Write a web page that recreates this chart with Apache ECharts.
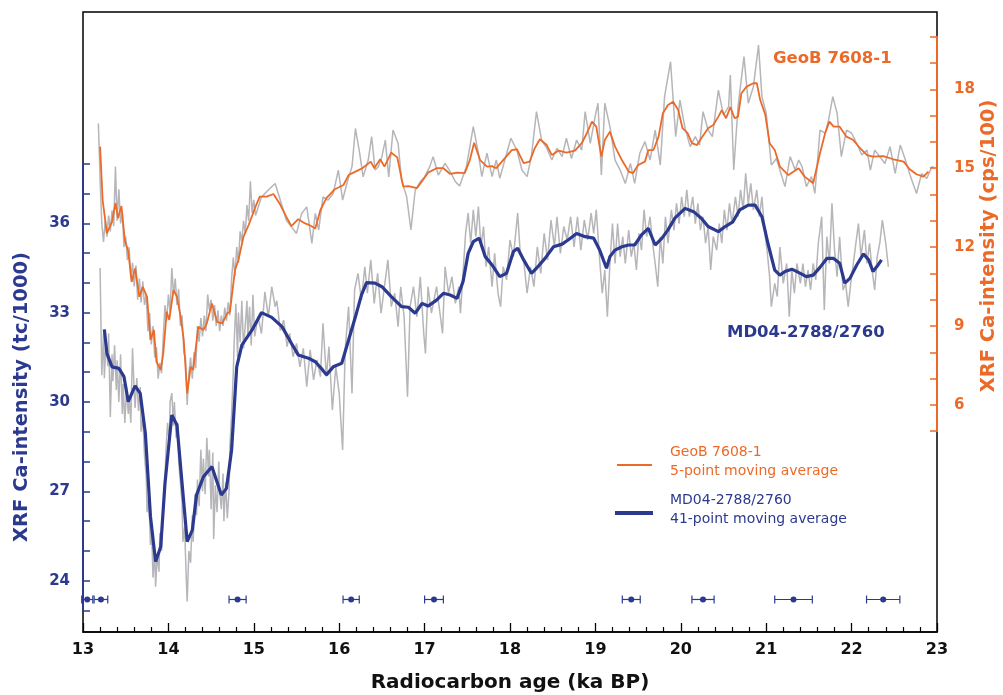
<!DOCTYPE html>
<html>
<head>
<meta charset="utf-8">
<script src="https://cdn.jsdelivr.net/npm/echarts@6/dist/echarts.min.js"></script>
<style>
  html, body { margin: 0; padding: 0; background: #fff; }
  #chart { width: 1003px; height: 695px; }
</style>
</head>
<body>
<div id="chart"></div>
<script>
// GeoB 7608-1 raw XRF Ca (cps/100), [age ka BP, value]
const geobRaw = [
  [13.18,16.7],[13.20,14.6],[13.22,12.9],[13.24,12.2],[13.26,13.0],[13.28,12.4],[13.30,13.2],[13.32,12.6],[13.34,13.4],[13.36,12.8],
  [13.38,15.06],[13.40,13.0],[13.42,14.2],[13.44,12.9],[13.46,13.3],[13.48,12.0],[13.50,12.4],[13.52,11.5],[13.54,12.0],[13.56,10.8],
  [13.58,11.4],[13.60,10.5],[13.62,11.3],[13.64,10.0],[13.66,10.8],[13.68,9.9],[13.70,10.7],[13.72,9.8],[13.74,10.2],[13.76,8.8],
  [13.78,9.5],[13.80,8.3],[13.82,9.0],[13.84,7.8],[13.86,8.2],[13.88,7.0],[13.90,7.6],[13.92,7.2],[13.94,8.6],[13.96,9.8],
  [13.98,9.2],[14.00,10.2],[14.02,9.5],[14.04,11.2],[14.06,10.2],[14.08,10.8],[14.10,9.8],[14.12,10.4],[14.14,9.0],[14.16,9.4],
  [14.18,8.0],[14.20,7.8],[14.22,6.0],[14.24,7.2],[14.26,7.8],[14.28,7.0],[14.30,8.0],[14.32,7.4],[14.34,9.0],[14.36,8.4],
  [14.38,9.3],[14.40,8.6],[14.42,9.4],[14.44,8.8],[14.46,10.2],[14.48,9.6],[14.50,10.0],[14.52,9.2],[14.54,9.8],[14.56,9.0],
  [14.58,9.6],[14.60,8.8],[14.62,9.4],[14.64,9.0],[14.66,9.7],[14.68,9.2],[14.70,9.9],[14.72,9.4],[14.74,10.8],[14.76,11.6],
  [14.78,10.9],[14.80,12.0],[14.82,11.4],[14.84,12.6],[14.86,12.2],[14.88,13.0],[14.90,12.5],[14.92,13.6],[14.94,13.0],[14.96,14.5],
  [14.98,13.3],[15.00,13.8],[15.02,13.2],
  [15.09,13.9],[15.17,14.17],[15.25,14.42],[15.31,13.79],[15.38,13.03],[15.44,12.77],[15.50,12.52],[15.56,13.28],[15.62,13.53],[15.68,12.14],
  [15.72,13.28],[15.76,12.65],[15.81,13.91],[15.87,13.79],[15.93,14.04],[15.99,14.93],[16.04,13.79],[16.09,14.42],[16.15,15.06],[16.19,16.51],
  [16.24,15.56],[16.28,14.67],[16.34,15.31],[16.38,16.2],[16.42,14.93],[16.46,15.06],[16.50,15.44],[16.54,16.07],[16.58,14.67],[16.63,16.45],
  [16.69,15.94],[16.73,14.55],[16.79,13.91],[16.84,12.65],[16.89,14.17],[16.95,14.49],[17.00,14.67],
  [17.06,15.06],[17.10,15.44],[17.16,14.74],[17.24,15.18],[17.30,14.87],[17.36,14.49],[17.41,14.32],[17.49,15.06],[17.57,16.58],[17.63,15.57],
  [17.67,14.68],[17.73,15.57],[17.79,14.68],[17.84,15.31],[17.88,14.62],[17.94,15.31],[18.01,16.14],[18.08,15.69],[18.14,14.93],[18.20,14.68],
  [18.25,15.44],[18.31,17.15],[18.37,16.07],[18.43,15.76],[18.49,15.31],[18.55,15.76],[18.61,15.44],[18.66,16.14],[18.72,15.37],[18.78,16.07],
  [18.84,15.69],[18.88,17.15],[18.94,15.94],[19.00,17.02],[19.03,17.47],[19.07,14.74],
  [19.11,17.47],[19.17,16.58],[19.23,15.31],[19.29,14.93],[19.35,14.42],[19.41,15.18],[19.46,14.42],[19.52,15.57],[19.58,16.01],[19.64,15.31],
  [19.70,16.45],[19.76,15.12],[19.81,17.72],[19.88,19.05],[19.94,16.20],[19.99,17.59],[20.05,16.52],[20.11,15.82],[20.17,16.20],[20.22,15.88],
  [20.26,17.15],[20.32,16.45],[20.37,16.20],[20.44,17.97],[20.50,17.02],[20.56,17.34],[20.58,18.54],[20.62,14.93],[20.67,17.34],[20.74,19.24],
  [20.79,17.47],[20.85,18.10],[20.91,19.68],[20.95,17.72],[21.00,17.09],[21.06,15.12],[21.12,15.37],
  [21.16,14.93],[21.22,14.30],[21.28,15.44],[21.34,14.93],[21.38,15.31],[21.42,15.06],[21.47,14.30],[21.53,14.68],[21.57,14.04],[21.63,16.45],
  [21.69,16.33],[21.73,16.83],[21.78,17.72],[21.83,17.09],[21.88,15.44],[21.94,16.45],[22.00,16.33],[22.06,15.94],[22.12,15.50],[22.18,15.69],
  [22.22,14.93],[22.27,15.69],[22.33,15.44],[22.39,15.18],[22.45,15.82],[22.51,14.80],[22.57,15.88],[22.63,15.31],[22.69,14.68],[22.76,14.04],
  [22.82,14.80],[22.88,14.61],[22.94,15.06],[22.98,15.0]
];

// GeoB 7608-1, 5-point moving average
const geobAvg = [
  [13.20,15.82],[13.23,13.79],[13.28,12.52],[13.34,12.97],[13.38,13.67],[13.41,13.10],[13.45,13.56],[13.49,12.27],[13.53,11.83],[13.57,10.68],
  [13.61,11.19],[13.66,10.11],[13.70,10.49],[13.75,10.11],[13.79,8.47],[13.83,8.85],[13.86,7.64],[13.91,7.33],[13.94,7.96],[13.98,9.54],
  [14.01,9.23],[14.06,10.37],[14.10,10.11],[14.14,9.42],[14.18,8.47],[14.22,6.44],[14.26,7.45],[14.29,7.33],[14.35,8.97],[14.41,8.85],
  [14.45,9.10],[14.51,9.86],[14.57,9.16],[14.63,9.10],[14.69,9.48],[14.72,9.54],[14.78,11.13],[14.82,11.51],[14.88,12.40],[14.94,12.84],
  [15.02,13.54],[15.07,13.92],[15.15,13.92],[15.23,14.02],[15.30,13.67],[15.38,13.16],[15.44,12.80],[15.52,13.06],[15.60,12.90],[15.65,12.84],
  [15.72,12.71],[15.78,13.41],[15.85,13.86],[15.95,14.20],[16.05,14.36],[16.11,14.74],[16.19,14.87],[16.27,15.00],[16.37,15.25],[16.41,15.00],
  [16.48,15.34],[16.53,15.06],[16.61,15.59],[16.68,15.41],[16.75,14.30],[16.81,14.32],[16.91,14.24],[16.98,14.55],[17.04,14.83],[17.14,15.00],
  [17.22,15.00],[17.30,14.78],[17.38,14.83],[17.47,14.81],[17.53,15.31],[17.58,15.97],[17.65,15.31],[17.73,15.06],[17.79,15.08],[17.84,15.00],
  [17.92,15.31],[18.02,15.69],[18.08,15.72],[18.16,15.19],[18.23,15.25],[18.29,15.76],[18.35,16.10],[18.43,15.88],[18.49,15.50],[18.57,15.67],
  [18.66,15.59],[18.76,15.67],[18.84,15.95],[18.90,16.33],[18.96,16.77],[19.01,16.58],[19.07,15.44],[19.11,16.07],[19.17,16.39],[19.23,15.82],
  [19.31,15.31],[19.39,14.87],[19.44,14.81],[19.50,15.12],[19.58,15.25],[19.62,15.69],[19.68,15.69],[19.74,16.20],[19.79,17.09],[19.85,17.40],
  [19.91,17.53],[19.97,17.21],[20.02,16.52],[20.08,16.33],[20.13,15.95],[20.19,15.88],[20.24,16.14],[20.32,16.52],[20.38,16.64],[20.44,16.96],
  [20.48,17.21],[20.53,16.90],[20.58,17.32],[20.63,16.90],[20.67,16.96],[20.71,17.85],[20.77,18.10],[20.85,18.23],[20.89,18.23],[20.93,17.59],
  [20.99,17.02],[21.04,15.95],[21.10,15.69],[21.16,15.06],[21.26,14.74],[21.38,15.00],[21.45,14.68],[21.55,14.43],[21.63,15.57],[21.69,16.33],
  [21.74,16.77],[21.79,16.58],[21.86,16.58],[21.94,16.20],[22.02,16.07],[22.10,15.76],[22.18,15.50],[22.25,15.44],[22.37,15.46],[22.49,15.34],
  [22.61,15.25],[22.68,14.96],[22.76,14.77],[22.84,14.68],[22.90,14.87]
];

// MD04-2788/2760 raw XRF Ca (tc/1000)
const mdRaw = [
  [13.20,34.5],[13.21,32.7],[13.22,30.9],[13.24,32.3],[13.25,30.8],[13.27,32.1],[13.29,31.2],[13.30,32.3],[13.32,29.5],[13.34,31.6],
  [13.35,30.7],[13.37,31.9],[13.39,30.4],[13.40,31.4],[13.42,30.0],[13.44,31.6],[13.46,29.6],[13.47,30.6],[13.49,29.3],[13.51,30.5],
  [13.53,29.6],[13.54,30.2],[13.56,29.3],[13.58,31.8],[13.60,30.3],[13.61,29.8],[13.63,30.8],[13.65,29.7],[13.67,30.5],[13.68,29.0],
  [13.70,29.5],[13.72,28.2],[13.74,27.5],[13.75,26.3],[13.77,26.8],[13.79,25.2],[13.80,26.0],[13.82,24.1],[13.84,25.0],[13.85,23.8],
  [13.87,24.9],[13.89,24.3],[13.90,25.6],[13.92,25.0],[13.94,26.4],[13.96,27.4],[13.97,28.3],[13.99,29.3],[14.01,28.6],[14.02,30.0],
  [14.04,30.3],[14.06,29.2],[14.07,30.0],[14.09,28.8],[14.11,29.3],[14.12,28.0],[14.14,27.3],[14.16,26.6],[14.17,25.3],[14.19,25.8],
  [14.21,24.0],[14.22,23.3],[14.24,25.0],[14.26,24.6],[14.28,26.2],[14.29,25.3],[14.31,26.9],[14.33,26.2],[14.34,27.4],[14.36,26.5],
  [14.38,28.4],[14.40,27.0],[14.41,28.1],[14.43,26.9],[14.45,28.8],[14.47,27.5],[14.48,28.4],[14.50,26.4],[14.52,28.3],[14.53,25.4],
  [14.55,27.2],[14.57,26.3],[14.59,28.0],[14.60,27.0],[14.62,26.4],[14.64,27.6],[14.65,26.0],[14.67,27.3],[14.69,26.1],[14.71,27.0],
  [14.72,28.5],[14.74,29.6],[14.76,31.0],[14.77,32.0],[14.79,33.3],[14.81,31.5],[14.82,33.0],[14.84,32.0],[14.86,33.4],[14.88,31.8],
  [14.90,32.6],[14.92,33.4],[14.93,32.2],[14.95,33.2],[14.97,31.9],[14.99,33.6],[15.01,32.2],
  [15.05,32.86],[15.09,32.3],[15.13,33.70],[15.17,32.86],[15.21,33.87],[15.25,33.2],[15.27,33.4],[15.31,32.4],[15.35,32.75],[15.39,31.86],
  [15.42,32.3],[15.46,31.52],[15.50,31.97],[15.54,31.18],[15.58,31.8],[15.62,30.51],[15.66,31.75],[15.70,30.74],[15.74,31.41],[15.78,30.85],
  [15.81,32.64],[15.85,30.85],[15.88,31.86],[15.92,29.73],[15.96,31.18],[16.00,30.29],[16.04,28.39],[16.07,31.75],[16.11,33.2],[16.15,30.29],
  [16.18,33.76],[16.22,34.32],[16.26,33.42],[16.30,34.54],[16.33,33.65],[16.37,34.77],[16.41,33.31],[16.45,34.32],[16.49,32.98],[16.53,33.87],
  [16.57,34.77],[16.61,33.2],[16.65,33.65],[16.69,32.53],[16.72,33.87],[16.76,32.86],[16.80,30.18],[16.83,33.2],[16.87,33.87],[16.91,32.86],
  [16.95,34.2],[16.99,32.3],[17.01,31.63],[17.04,33.87],[17.08,32.98],
  [17.14,33.87],[17.18,32.98],[17.21,32.3],[17.24,34.54],[17.28,33.65],[17.32,34.21],[17.36,33.31],[17.40,33.87],[17.42,32.98],[17.45,34.32],
  [17.48,35.66],[17.51,36.34],[17.54,35.33],[17.57,36.45],[17.60,35.55],[17.63,36.56],[17.66,35.21],[17.69,35.89],[17.72,34.54],[17.75,35.21],
  [17.79,33.87],[17.82,34.99],[17.86,33.65],[17.89,33.2],[17.92,34.54],[17.96,34.1],[18.00,35.44],[18.04,34.88],[18.09,36.34],[18.12,34.99],
  [18.16,34.77],[18.20,33.65],[18.24,34.54],[18.28,33.87],[18.32,35.21],[18.36,34.32],[18.40,35.66],[18.44,34.77],[18.48,36.11],[18.52,35.21],
  [18.55,36.22],[18.59,34.99],[18.63,35.89],[18.67,35.44],[18.71,36.22],[18.75,35.21],[18.79,36.22],[18.83,35.1],[18.87,36.11],[18.91,35.44],
  [18.95,36.34],[18.98,35.66],[19.01,36.45],[19.05,34.77],[19.08,33.65],
  [19.11,34.43],[19.14,32.86],[19.17,34.65],[19.20,35.99],[19.23,34.65],[19.26,35.99],[19.29,34.88],[19.32,35.55],[19.35,34.65],[19.39,35.77],
  [19.42,34.88],[19.45,35.33],[19.48,34.43],[19.51,35.66],[19.54,35.1],[19.57,36.45],[19.60,35.55],[19.64,36.22],[19.67,35.33],[19.70,34.65],
  [19.73,33.87],[19.76,35.55],[19.79,34.65],[19.82,36.22],[19.85,35.33],[19.89,36.45],[19.92,35.77],[19.95,36.67],[19.98,35.99],[20.01,36.89],
  [20.04,36.22],[20.07,37.12],[20.10,36.22],[20.14,36.89],[20.17,35.99],[20.20,36.67],[20.23,35.77],[20.26,36.22],[20.29,35.33],[20.32,35.88],
  [20.35,34.43],[20.38,35.55],[20.42,35.1],[20.45,35.99],[20.48,35.33],[20.51,36.45],[20.54,35.77],[20.57,36.67],[20.60,35.99],[20.64,36.89],
  [20.67,36.22],[20.70,37.12],[20.73,36.45],[20.76,37.68],[20.79,36.67],[20.82,37.34],[20.85,36.45],[20.89,37.12],[20.92,36.22],[20.95,36.89],
  [20.98,35.77],[21.01,35.1],[21.04,34.21],[21.06,33.2],[21.10,33.98],[21.13,33.54],
  [21.16,35.2],[21.20,33.98],[21.24,34.65],[21.27,32.86],[21.30,34.43],[21.33,33.65],[21.36,34.65],[21.40,33.98],[21.43,34.65],[21.46,33.87],
  [21.49,34.43],[21.52,33.76],[21.55,34.65],[21.58,34.1],[21.61,35.33],[21.65,36.22],[21.68,33.09],[21.71,35.55],[21.74,34.65],[21.77,36.67],
  [21.80,35.1],[21.83,34.21],[21.86,35.55],[21.90,33.76],[21.93,33.98],[21.96,33.2],[21.99,33.98],[22.02,34.65],[22.05,35.33],[22.08,35.99],
  [22.11,34.88],[22.15,35.77],[22.18,34.65],[22.21,35.33],[22.24,34.43],[22.27,33.76],[22.30,34.88],[22.33,35.33],[22.36,36.11],[22.40,35.33],
  [22.43,34.54]
];

// MD04-2788/2760, 41-point moving average
const mdAvg = [
  [13.25,32.44],[13.28,31.63],[13.34,31.18],[13.42,31.13],[13.48,30.85],[13.53,30.01],[13.61,30.54],[13.67,30.29],[13.73,28.95],[13.79,26.15],
  [13.85,24.64],[13.91,25.14],[13.96,27.27],[14.04,29.56],[14.10,29.23],[14.16,27.27],[14.22,25.31],[14.28,25.70],[14.33,26.88],[14.41,27.49],
  [14.51,27.83],[14.62,26.88],[14.68,27.10],[14.74,28.39],[14.80,31.18],[14.86,31.91],[14.98,32.42],[15.09,33.00],[15.21,32.84],[15.33,32.53],
  [15.44,31.97],[15.52,31.58],[15.64,31.47],[15.72,31.35],[15.79,31.13],[15.85,30.91],[15.93,31.18],[16.03,31.30],[16.11,32.08],[16.19,32.86],
  [16.26,33.59],[16.32,34.01],[16.42,33.99],[16.50,33.87],[16.61,33.54],[16.73,33.20],[16.81,33.18],[16.89,32.98],[16.97,33.31],[17.04,33.22],
  [17.14,33.42],[17.22,33.65],[17.30,33.59],[17.38,33.48],[17.45,34.04],[17.51,34.99],[17.57,35.38],[17.64,35.50],[17.71,34.88],[17.79,34.60],
  [17.88,34.21],[17.96,34.32],[18.04,35.05],[18.09,35.16],[18.16,34.77],[18.25,34.32],[18.31,34.49],[18.41,34.82],[18.51,35.21],[18.61,35.30],
  [18.68,35.44],[18.78,35.66],[18.88,35.55],[18.98,35.50],[19.05,35.10],[19.13,34.49],[19.17,34.88],[19.23,35.10],[19.31,35.21],[19.39,35.27],
  [19.46,35.27],[19.54,35.61],[19.62,35.83],[19.70,35.27],[19.78,35.50],[19.85,35.78],[19.93,36.17],[20.05,36.50],[20.15,36.39],[20.24,36.17],
  [20.32,35.89],[20.44,35.72],[20.52,35.89],[20.61,36.05],[20.69,36.45],[20.79,36.61],[20.87,36.61],[20.95,36.22],[21.02,35.33],[21.10,34.43],
  [21.16,34.26],[21.22,34.38],[21.30,34.46],[21.40,34.32],[21.47,34.21],[21.55,34.26],[21.63,34.52],[21.71,34.82],[21.79,34.82],[21.86,34.66],
  [21.92,33.99],[21.98,34.15],[22.06,34.60],[22.14,34.97],[22.20,34.77],[22.25,34.38],[22.31,34.60],[22.35,34.77]
];

// radiocarbon age control points: age and 1-sigma half width (ka)
const dateAge = [13.05, 13.21, 14.81, 16.14, 17.11, 19.42, 20.26, 21.32, 22.37];
const dateErr = [0.065, 0.08, 0.10, 0.095, 0.11, 0.105, 0.13, 0.22, 0.195];
const dateRow = 23.37; // height of the date row on the left axis

const xTicks = [13, 23];
const mdTicks = [23, 38];
const geobTicks = [5, 20];

const ORANGE = '#EC6A27';
const BLUE = '#2B3A8F';
const GRAY = '#B6B6BA';
const FONT = 'DejaVu Sans, Verdana, sans-serif';

const chart = echarts.init(document.getElementById('chart'));

const hiddenX = (g) => ({ gridIndex: g, type: 'value', min: xTicks[0], max: xTicks[1], show: false });

const option = {
  animation: false,
  backgroundColor: '#fff',
  grid: [
    { left: 83, top: 12, width: 854, height: 620, show: true, borderColor: '#000', borderWidth: 1.5, containLabel: false },
    { left: 83, top: 163.7, width: 854, height: 446.8, containLabel: false },
    { left: 83, top: 36.7, width: 854, height: 394.5, containLabel: false }
  ],
  xAxis: [
    {
      gridIndex: 0, type: 'value', min: xTicks[0], max: xTicks[1], interval: 1,
      axisLine: { lineStyle: { color: '#000', width: 1.5 } },
      axisTick: { inside: true, length: 9, lineStyle: { color: '#000', width: 1.3 } },
      minorTick: { show: true, splitNumber: 5, length: 5, lineStyle: { color: '#000', width: 1.2 } },
      splitLine: { show: false },
      axisLabel: { color: '#111', fontFamily: FONT, fontWeight: 'bold', fontSize: 16, margin: 10 }
    },
    hiddenX(1),
    hiddenX(2)
  ],
  yAxis: [
    { gridIndex: 0, type: 'value', min: 0, max: 1, show: false },
    {
      gridIndex: 1, type: 'value', min: mdTicks[0], max: mdTicks[1], interval: 1, position: 'left', z: 10,
      axisLine: { show: true, lineStyle: { color: BLUE, width: 2 } },
      axisTick: { show: true, inside: true, length: 7, lineStyle: { color: BLUE, width: 1.5 } },
      splitLine: { show: false },
      axisLabel: {
        color: BLUE, fontFamily: FONT, fontWeight: 'bold', fontSize: 15, margin: 13,
        formatter: (v) => ((v - 24) % 3 === 0 ? String(v) : '')
      }
    },
    {
      gridIndex: 2, type: 'value', min: geobTicks[0], max: geobTicks[1], interval: 1, position: 'right', z: 10,
      axisLine: { show: true, lineStyle: { color: ORANGE, width: 2 } },
      axisTick: { show: true, inside: true, length: 7, lineStyle: { color: ORANGE, width: 1.5 } },
      splitLine: { show: false },
      axisLabel: {
        color: ORANGE, fontFamily: FONT, fontWeight: 'bold', fontSize: 15, margin: 17,
        formatter: (v) => ((v - 6) % 3 === 0 && v >= 6 ? String(v) : '')
      }
    }
  ],
  series: [
    {
      name: 'GeoB raw', type: 'line', xAxisIndex: 2, yAxisIndex: 2, data: geobRaw,
      showSymbol: false, clip: false, lineStyle: { color: GRAY, width: 1.5 }, z: 2
    },
    {
      name: 'MD raw', type: 'line', xAxisIndex: 1, yAxisIndex: 1, data: mdRaw,
      showSymbol: false, clip: false, lineStyle: { color: GRAY, width: 1.5 }, z: 2
    },
    {
      name: 'GeoB 7608-1', type: 'line', xAxisIndex: 2, yAxisIndex: 2, data: geobAvg,
      showSymbol: false, clip: false, lineStyle: { color: ORANGE, width: 1.8 }, z: 4
    },
    {
      name: 'MD04-2788/2760', type: 'line', xAxisIndex: 1, yAxisIndex: 1, data: mdAvg,
      showSymbol: false, clip: false, lineStyle: { color: BLUE, width: 3.2 }, z: 5
    },
    {
      name: 'dates', type: 'custom', xAxisIndex: 1, yAxisIndex: 1, z: 6,
      data: dateAge.map((a, i) => [a, dateRow, a - dateErr[i], a + dateErr[i]]),
      encode: { x: [0, 2, 3], y: 1 },
      renderItem: function (params, api) {
        const c = api.coord([api.value(0), api.value(1)]);
        const l = api.coord([api.value(2), api.value(1)]);
        const r = api.coord([api.value(3), api.value(1)]);
        const st = { stroke: BLUE, lineWidth: 1.2 };
        return {
          type: 'group',
          children: [
            { type: 'line', shape: { x1: l[0], y1: l[1], x2: r[0], y2: r[1] }, style: st },
            { type: 'line', shape: { x1: l[0], y1: l[1] - 4, x2: l[0], y2: l[1] + 4 }, style: st },
            { type: 'line', shape: { x1: r[0], y1: r[1] - 4, x2: r[0], y2: r[1] + 4 }, style: st },
            { type: 'circle', shape: { cx: c[0], cy: c[1], r: 3 }, style: { fill: BLUE } }
          ]
        };
      }
    }
  ],
  graphic: [
    { type: 'text', left: 773, top: 50, style: { text: 'GeoB 7608-1', fill: ORANGE, font: 'bold 16.5px ' + FONT } },
    { type: 'text', left: 727, top: 324, style: { text: 'MD04-2788/2760', fill: BLUE, font: 'bold 16.5px ' + FONT } },
    { type: 'line', shape: { x1: 617, y1: 465, x2: 652, y2: 465 }, style: { stroke: ORANGE, lineWidth: 2 } },
    { type: 'text', left: 670, top: 443, style: { text: 'GeoB 7608-1\n5-point moving average', fill: ORANGE, font: '14px ' + FONT, lineHeight: 19 } },
    { type: 'line', shape: { x1: 615, y1: 513, x2: 653, y2: 513 }, style: { stroke: BLUE, lineWidth: 4 } },
    { type: 'text', left: 670, top: 491, style: { text: 'MD04-2788/2760\n41-point moving average', fill: BLUE, font: '14px ' + FONT, lineHeight: 19 } },
    {
      type: 'text', x: 22, y: 397, rotation: Math.PI / 2,
      style: { text: 'XRF Ca-intensity (tc/1000)', fill: BLUE, font: 'bold 19.5px ' + FONT, align: 'center', verticalAlign: 'middle' }
    },
    {
      type: 'text', x: 989, y: 246, rotation: Math.PI / 2,
      style: { text: 'XRF Ca-intensity (cps/100)', fill: ORANGE, font: 'bold 19.5px ' + FONT, align: 'center', verticalAlign: 'middle' }
    },
    {
      type: 'text', x: 510, y: 683,
      style: { text: 'Radiocarbon age (ka BP)', fill: '#111', font: 'bold 20px ' + FONT, align: 'center', verticalAlign: 'middle' }
    }
  ]
};

chart.setOption(option);
</script>
</body>
</html>
